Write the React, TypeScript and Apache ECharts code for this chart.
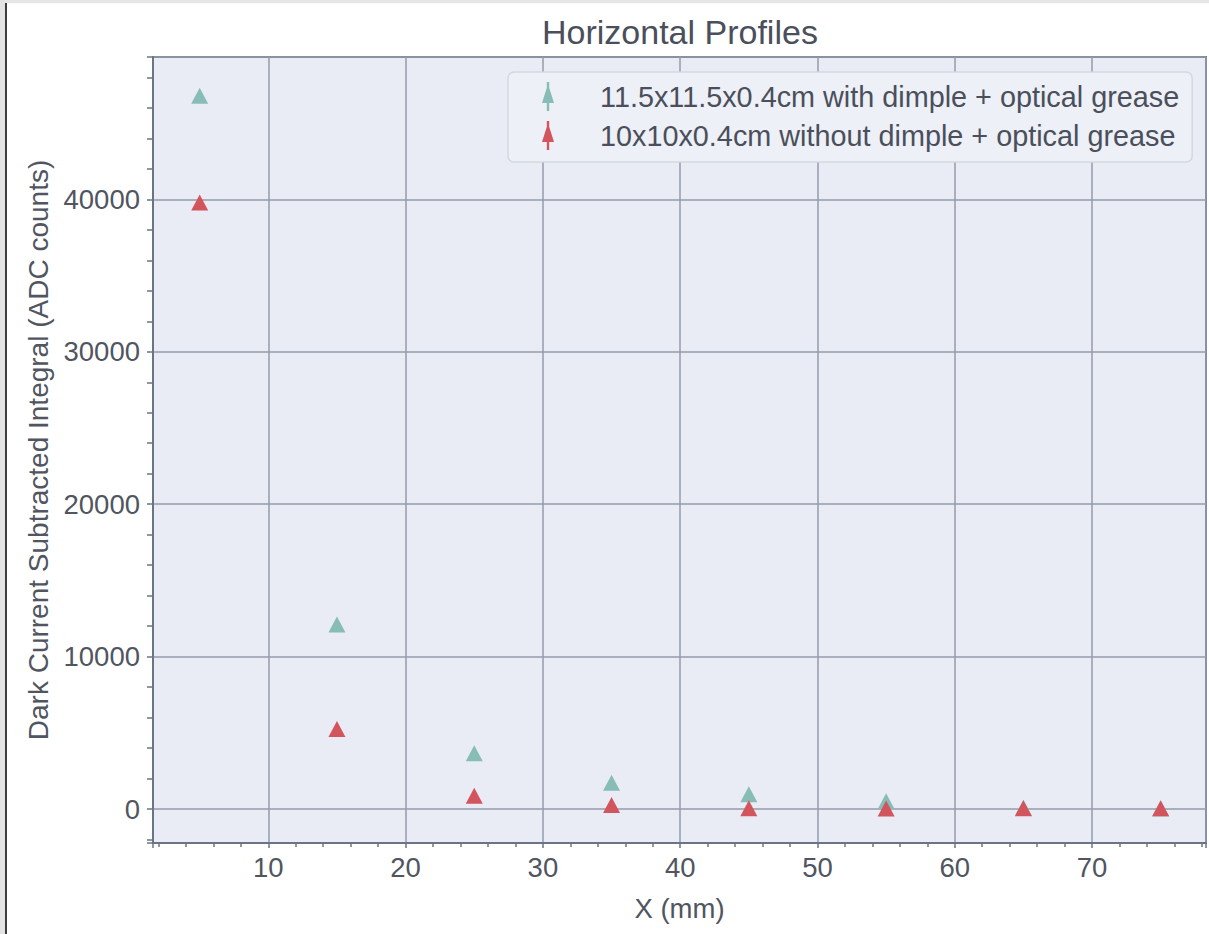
import React, { useEffect, useRef } from "react";
import * as echarts from "echarts";

const xPositions = [5, 15, 25, 35, 45, 55, 65, 75];
const dimpleValues = [46800, 12100, 3660, 1720, 975, 505, 90, 40];
const noDimpleValues = [39800, 5250, 875, 263, 46, 40, 55, 50];
const seriesNames = [
  "11.5x11.5x0.4cm with dimple + optical grease",
  "10x10x0.4cm without dimple + optical grease",
];
const seriesColors = ["#87bdb6", "#d2555e"];
const titleText = "Horizontal Profiles";
const xAxisName = "X (mm)";
const yAxisName = "Dark Current Subtracted Integral (ADC counts)";

const FONT = "'Liberation Sans', Arial, Helvetica, sans-serif";
const legendIcon = "path://M4.8,0L7.2,0L7.2,29L4.8,29Z M6,2L12,21L0,21Z";

export default function App() {
  const ref = useRef<HTMLDivElement>(null);
  useEffect(() => {
    if (!ref.current) return;
    const chart = echarts.init(ref.current, undefined, { renderer: "svg" });
    const toPairs = (vals: number[]) => xPositions.map((x, i) => [x, vals[i]]);
    const axisColor = "#6c7384";
    const gridColor = "#959bab";
    const labelColor = "#50555f";
    chart.setOption({
      animation: false,
      backgroundColor: "#ffffff",
      title: {
        text: titleText,
        left: 542,
        top: 15,
        padding: 0,
        textStyle: { fontFamily: FONT, fontSize: 34, fontWeight: "normal", color: "#4a4f5b" },
      },
      legend: {
        orient: "vertical",
        left: 508,
        top: 72,
        padding: [10, 13, 12, 34],
        itemGap: 10,
        itemWidth: 12,
        itemHeight: 29,
        backgroundColor: "#edf0f6",
        borderColor: "#d3d7e0",
        borderWidth: 1.5,
        borderRadius: 6,
        data: seriesNames.map((n) => ({ name: n, icon: legendIcon })),
        textStyle: { fontFamily: FONT, fontSize: 28.8, color: "#4a4f5b", padding: [0, 0, 0, 41] },
      },
      grid: {
        left: 153,
        top: 57,
        right: 3,
        bottom: 91,
        show: true,
        backgroundColor: "#e9ecf4",
        borderColor: axisColor,
        borderWidth: 2,
      },
      xAxis: {
        type: "value",
        min: 1.6,
        max: 78.3,
        splitNumber: 8,
        minInterval: 10,
        maxInterval: 10,
        name: xAxisName,
        nameLocation: "middle",
        nameGap: 51,
        nameTextStyle: { fontFamily: FONT, fontSize: 27.5, color: labelColor },
        axisLine: { show: true, onZero: false, lineStyle: { color: axisColor, width: 2 } },
        axisTick: { show: true, length: 5, lineStyle: { color: axisColor, width: 1.5 } },
        minorTick: { show: true, splitNumber: 5, length: 4, lineStyle: { color: axisColor, width: 1.5 } },
        axisLabel: {
          margin: 10,
          showMinLabel: false,
          showMaxLabel: false,
          fontFamily: FONT,
          fontSize: 27.5,
          color: labelColor,
          formatter: (v: number) => String(v),
        },
        splitLine: { show: true, lineStyle: { color: gridColor, width: 1.5 } },
      },
      yAxis: {
        type: "value",
        min: -2230,
        max: 49340,
        splitNumber: 5,
        minInterval: 10000,
        maxInterval: 10000,
        name: yAxisName,
        nameLocation: "middle",
        nameGap: 99,
        nameTextStyle: { fontFamily: FONT, fontSize: 28, color: labelColor },
        axisLine: { show: true, onZero: false, lineStyle: { color: axisColor, width: 2 } },
        axisTick: { show: true, length: 6, lineStyle: { color: axisColor, width: 1.5 } },
        minorTick: { show: true, splitNumber: 5, length: 6, lineStyle: { color: axisColor, width: 1.5 } },
        axisLabel: {
          margin: 13,
          showMinLabel: false,
          showMaxLabel: false,
          fontFamily: FONT,
          fontSize: 27.5,
          color: labelColor,
          formatter: (v: number) => String(v),
        },
        splitLine: { show: true, lineStyle: { color: gridColor, width: 1.5 } },
      },
      graphic: [
        { type: "rect", shape: { x: 0, y: 0, width: 1209, height: 3.3 }, style: { fill: "#e6e6e6" }, silent: true },
        { type: "rect", shape: { x: 0, y: 0, width: 5, height: 934 }, style: { fill: "#e3e3e3" }, silent: true },
        { type: "rect", shape: { x: 5, y: 3, width: 2, height: 931 }, style: { fill: "#3c3c3c" }, silent: true },
      ],
      series: [
        {
          name: seriesNames[0],
          type: "scatter",
          symbol: "triangle",
          symbolSize: [17, 16],
          itemStyle: { color: seriesColors[0], opacity: 1 },
          data: toPairs(dimpleValues),
          z: 2,
        },
        {
          name: seriesNames[1],
          type: "scatter",
          symbol: "triangle",
          symbolSize: [17, 16],
          itemStyle: { color: seriesColors[1], opacity: 1 },
          data: toPairs(noDimpleValues),
          z: 3,
        },
      ],
    });
    return () => chart.dispose();
  }, []);
  return (
    <div
      ref={ref}
      style={{ position: "fixed", left: 0, top: 0, width: 1209, height: 934 }}
    />
  );
}
